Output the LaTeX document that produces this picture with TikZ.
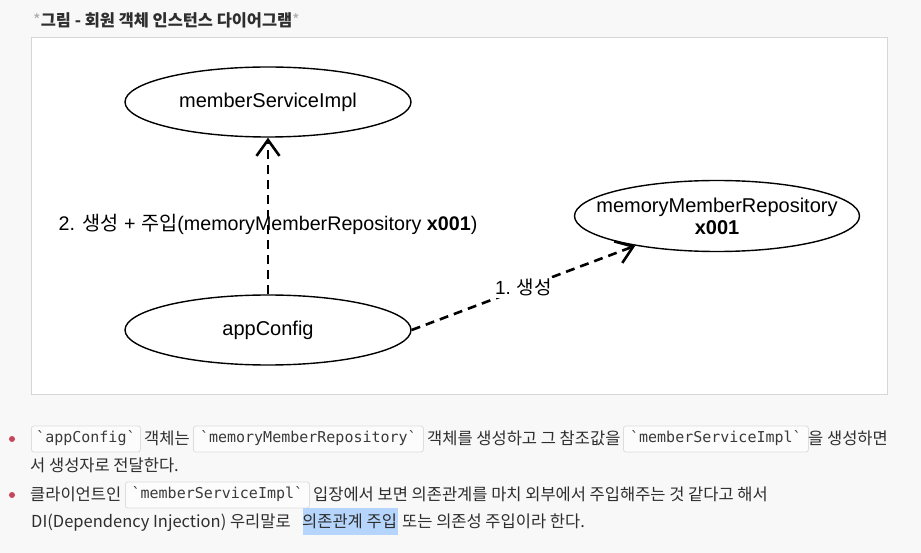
\documentclass[tikz,border=0pt]{standalone}
\usepackage{fontspec}
\setmainfont{Noto Sans CJK KR}
\newfontfamily\kr{Noto Sans CJK KR}
\newfontfamily\diagfont{Liberation Sans}
\setmonofont{DejaVu Sans Mono}
\usetikzlibrary{arrows.meta,shapes.geometric}
\definecolor{pagebg}{HTML}{F8F8F8}
\definecolor{framecol}{HTML}{D6D6D6}
\definecolor{txt}{HTML}{2E2E2E}
\definecolor{startxt}{HTML}{AAAAAA}
\definecolor{codeborder}{HTML}{DDDDDD}
\definecolor{codebg}{HTML}{FCFCFC}
\definecolor{codetxt}{HTML}{3A3A3A}
\definecolor{bulletcol}{HTML}{C9455C}
\definecolor{hilite}{HTML}{B5D5FC}
\tikzset{
  objshape/.style={ellipse, draw=black, line width=1.4pt, inner sep=0pt, fill=white},
  objtext/.style={font=\diagfont\fontsize{20}{22}\selectfont, align=center, inner sep=0pt, text=black},
  dep/.style={line width=2.6pt, dash pattern=on 9pt off 6pt, -{Straight Barb[length=16pt,width=23pt]}},
  lbl/.style={font=\diagfont\fontsize{19}{22}\selectfont, inner sep=1.5pt, text=black},
  body/.style={anchor=base west, inner sep=0pt, font=\fontsize{16.5}{19}\selectfont, text=txt},
  code/.style={draw=codeborder, fill=codebg, rounded corners=2.5pt, line width=0.8pt,
    minimum height=26pt, inner sep=0pt, anchor=west, font=\ttfamily\fontsize{15}{18}\selectfont,
    text=codetxt, text height=10.5pt, text depth=3pt},
  bulletdot/.style={circle, fill=bulletcol, inner sep=0pt, minimum size=6pt},
}
\begin{document}
\begin{tikzpicture}[x=1pt,y=-1pt]
\useasboundingbox (0,0) rectangle (921,553);
\fill[pagebg] (0,0) rectangle (921,553);

% title
\node[anchor=west, inner sep=0pt, font=\fontsize{16.4}{19}\selectfont] (title) at (33,20)
  {\textcolor{startxt}{*}\textcolor{txt}{\bfseries 그림 - 회원 객체 인스턴스 다이어그램}\textcolor{startxt}{*}};

% frame
\draw[framecol, fill=white, line width=1pt] (31,38) rectangle (887,394);

% objects
\node[objshape, minimum width=286pt, minimum height=70pt] (msi) at (268,102) {};
\node[objtext] (msit) at (msi.center) {memberServiceImpl};
\node[objshape, minimum width=286pt, minimum height=70pt] (ac) at (268,330) {};
\node[objtext] (act) at (ac.center) {appConfig};
\node[objshape, minimum width=285pt, minimum height=71pt] (mmr) at (717,216) {};
\node[objtext] (mmrt) at (mmr.center) {memoryMemberRepository\\[0pt]\textbf{x001}};

% connectors
\draw[dep] (ac.north) -- (msi.south);
\node[lbl, font=\diagfont\fontsize{19.7}{22}\selectfont] (l2) at (268,224) {2. {\kr 생성} + {\kr 주입}(memoryMemberRepository \textbf{x001})};
\draw[dep] (ac.east) -- node[lbl, fill=white, pos=0.5] (l1) {1.\hspace{-1pt} {\kr 생성}} (mmr.200);

% bullets
\node[bulletdot] (b1) at (12,439) {};
\node[bulletdot] (b2) at (12,495) {};

% line 1
\node[code, minimum width=109pt] (c1) at (31,439) {`appConfig`};
\node[body] (t11) at (144,444) {객체는};
\node[code, minimum width=230pt] (c2) at (193,439) {`memoryMemberRepository`};
\node[body] (t12) at (427,444) {객체를 생성하고 그 참조값을};
\node[code, minimum width=185pt] (c3) at (623,439) {`memberServiceImpl`};
\node[body] (t13) at (808,444) {을 생성하면};
% line 2
\node[body] (t2) at (30,471) {서 생성자로 전달한다.};
% line 3
\node[body] (t31) at (30,500) {클라이언트인};
\node[code, minimum width=184pt] (c4) at (125,495) {`memberServiceImpl`};
\node[body] (t32) at (313,500) {입장에서 보면 의존관계를 마치 외부에서 주입해주는 것 같다고 해서};
% line 4
\fill[hilite] (303,508) rectangle (398,535);
\node[body] (t41) at (31,527) {DI(Dependency Injection) 우리말로};
\node[body] (t42) at (302,527) {의존관계 주입};
\node[body] (t43) at (402,527) {또는 의존성 주입이라 한다.};
\end{tikzpicture}
\end{document}
